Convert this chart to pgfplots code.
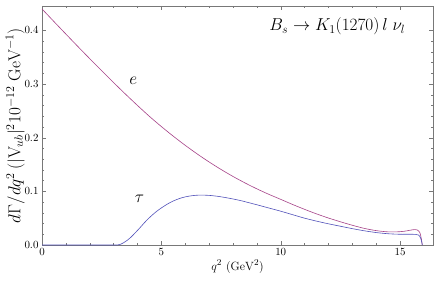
\documentclass[border=0pt]{standalone}
\usepackage{pgfplots}
\pgfplotsset{compat=1.18}
\usetikzlibrary{calc}
\definecolor{ecol}{RGB}{165,65,135}
\definecolor{taucol}{RGB}{80,80,185}
\definecolor{framecol}{RGB}{120,120,120}
\begin{document}
\begin{tikzpicture}
\begin{axis}[
    name=ax,
    scale only axis,
    width=391bp, height=239bp,
    xmin=0, xmax=16.38, ymin=0, ymax=0.4455,
    xtick={0,5,10,15}, minor x tick num=4,
    ytick={0,0.1,0.2,0.3,0.4}, minor y tick num=4,
    tick align=inside,
    major tick length=4bp, minor tick length=2.2bp,
    axis line style={framecol, line width=0.5pt},
    every tick/.style={framecol, line width=0.4pt},
    yticklabel style={/pgf/number format/fixed, /pgf/number format/precision=1, /pgf/number format/fixed zerofill},
    tick label style={font=\fontsize{10.5}{12}\selectfont},
    xlabel={$q^2\ (\mathrm{GeV}^2)$},
    ylabel={$d\Gamma/dq^2\,(|\mathrm{V}_{ub}|^2 10^{-12}\ \mathrm{GeV}^{-1})$},
    xlabel style={font=\fontsize{13}{15}\selectfont, yshift=3bp},
    ylabel style={font=\fontsize{17}{19}\selectfont, yshift=-7bp},
    clip=false,
]
\addplot[ecol, line width=0.6pt, smooth] coordinates {
(0,0.440) (0.5,0.4165) (1,0.3932) (1.5,0.3701) (2,0.3473) (2.5,0.3248) (3,0.3027)
(3.5,0.2811) (4,0.2601) (4.5,0.2398) (5,0.2208) (5.5,0.2028) (6,0.1858) (6.5,0.1698)
(7,0.1548) (7.5,0.1408) (8,0.1278) (8.5,0.1158) (9,0.1047) (9.5,0.0945) (10,0.0851)
(10.5,0.0755) (11,0.0665) (11.5,0.0580) (12,0.0503) (12.5,0.0433) (13,0.0368)
(13.5,0.0310) (14,0.0268) (14.5,0.0245) (15,0.0248) (15.3,0.0265) (15.55,0.0285)
(15.72,0.0280) (15.83,0.0230) (15.89,0.012) (15.93,0.0)
};
\addplot[taucol, line width=0.6pt, smooth] coordinates {
(0,0) (1,0) (2,0) (3,0) (3.16,0) (3.3,0.0015) (3.5,0.0065) (3.7,0.0135) (3.9,0.0225)
(4.1,0.032) (4.3,0.042) (4.5,0.051) (4.7,0.059) (4.9,0.066) (5.1,0.072) (5.3,0.0775)
(5.5,0.082) (5.75,0.0865) (6.0,0.0897) (6.3,0.0920) (6.6,0.0930) (7.0,0.0925)
(7.4,0.0905) (7.8,0.0875) (8.3,0.0830) (9.0,0.0750) (9.5,0.0690) (10.0,0.0630)
(10.5,0.0565) (11.0,0.0500) (11.5,0.0445) (12.0,0.0395) (12.5,0.0350) (13.0,0.0305)
(13.5,0.0265) (14.0,0.0232) (14.5,0.0210) (15.0,0.0200) (15.4,0.0200) (15.65,0.0198)
(15.78,0.0185) (15.86,0.013) (15.91,0.005) (15.93,0)
};
\node[font=\fontsize{16}{18}\selectfont] at (axis cs:3.82,0.306) {$e$};
\node[font=\fontsize{16}{18}\selectfont] at (axis cs:4.08,0.087) {$\tau$};
\node[font=\fontsize{17}{19}\selectfont] at (axis cs:12.37,0.408) {$B_s\to K_1(1270)\,l\;\nu_l$};
\end{axis}
\pgfresetboundingbox
\path ($(ax.south west)+(-42bp,-40bp)$) rectangle ($(ax.north east)+(3bp,6bp)$);
\end{tikzpicture}
\end{document}
